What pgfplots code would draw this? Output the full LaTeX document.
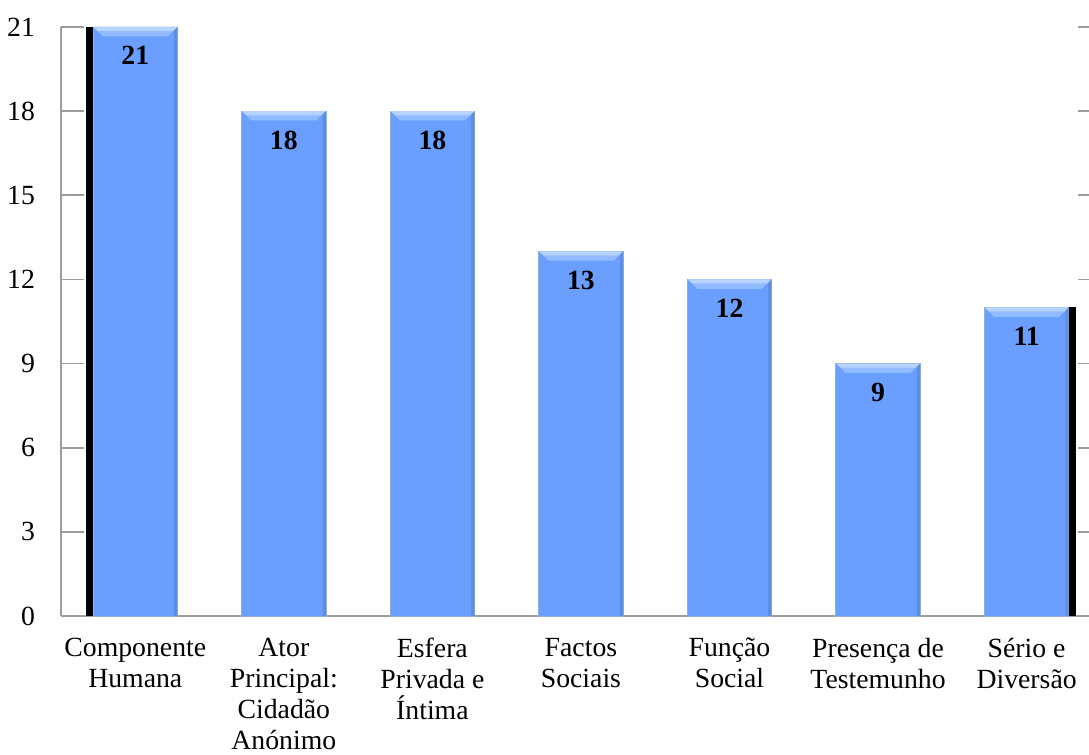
\documentclass[border=0pt]{standalone}
\usepackage{pgfplots}
\pgfplotsset{compat=1.18}
\usepackage{pgfplotstable}
\usepackage{fontspec}
\setmainfont{Liberation Serif}

\definecolor{barblue}{HTML}{6A9FFF}
\definecolor{bevellight}{HTML}{B6D4FF}
\definecolor{bevelmid}{HTML}{92BCFF}
\definecolor{baredge}{HTML}{8FAFDD}
\definecolor{axisgray}{HTML}{9C9C9C}

\pgfplotstableread{
idx value
0 21
1 18
2 18
3 13
4 12
5 9
6 11
}\counts

% bevelled top of a bar, hanging below the data point
\pgfdeclareplotmark{bevel}{%
  \pgfpathmoveto{\pgfqpoint{-31.3pt}{0pt}}%
  \pgfpathlineto{\pgfqpoint{31.3pt}{0pt}}%
  \pgfpathlineto{\pgfqpoint{24.3pt}{-7pt}}%
  \pgfpathlineto{\pgfqpoint{-24.3pt}{-7pt}}%
  \pgfpathclose
  \pgfusepathqfill}
\pgfdeclareplotmark{bevelhi}{%
  \pgfpathmoveto{\pgfqpoint{-31.3pt}{0pt}}%
  \pgfpathlineto{\pgfqpoint{31.3pt}{0pt}}%
  \pgfpathlineto{\pgfqpoint{28.3pt}{-3pt}}%
  \pgfpathlineto{\pgfqpoint{-28.3pt}{-3pt}}%
  \pgfpathclose
  \pgfusepathqfill}

\begin{document}
\begin{tikzpicture}
\begin{axis}[
  at={(0,0)}, anchor=south west,
  width=771pt, height=441.75pt, scale only axis,
  xmin=-0.5, xmax=6.42, ymin=0, ymax=21,
  axis x line*=bottom, axis y line*=left,
  axis line style={axisgray, line width=1.1pt},
  ytick={0,3,...,21},
  xtick={0,...,6},
  tick style={draw=none},
  xticklabels={{Componente\\Humana},{Ator\\Principal:\\Cidadão\\Anónimo},{Esfera\\Privada e\\Íntima},{Factos\\Sociais},{Função\\Social},{Presença de\\Testemunho},{Sério e\\Diversão}},
  tick label style={font=\fontsize{20.8}{23.25}\selectfont},
  /pgf/number format/assume math mode=true,
  xticklabel style={align=center, yshift=-13pt},
  yticklabel style={xshift=-16pt},
  clip=false,
]
% short ticks along the right edge
\pgfplotsinvokeforeach{3,6,9,12,15,18,21}{
  \draw[axisgray, line width=1.2pt] (axis cs:6.346,#1) -- (axis cs:6.42,#1);
}
% shadow strips at the outer edges of the first and last bars
\addplot[ybar, bar width=4.9pt, bar shift=-34.4pt, fill=black, draw=none]
  coordinates {(0,21)};
\addplot[ybar, bar width=5.5pt, bar shift=34.5pt, fill=black, draw=none]
  coordinates {(6,11)};
% main bars with value labels
\addplot[ybar, bar width=63.4pt, bar shift=0pt, fill=barblue, draw=baredge,
  line width=0.6pt,
  nodes near coords,
  nodes near coords style={font=\fontsize{20.8}{23.25}\selectfont\bfseries,
    text=black, anchor=north, yshift=-11pt, /pgf/number format/assume math mode=true}]
  table[x=idx, y=value]{\counts};
% darker right-hand bevel of each bar
\addplot[ybar, bar width=2.6pt, bar shift=30.3pt, fill=barblue!70!black,
  fill opacity=0.35, draw=none]
  table[x=idx, y=value]{\counts};
% lighter top bevel of each bar
\addplot[only marks, mark=bevel, mark options={fill=bevelmid, draw=none}]
  table[x=idx, y=value]{\counts};
\addplot[only marks, mark=bevelhi, mark options={fill=bevellight, draw=none}]
  table[x=idx, y=value]{\counts};
\end{axis}
% long tick marks on the left wall (one every 3 units, 441.75pt / 7 apart)
\foreach \k in {1,...,7}{
  \draw[axisgray, line width=1.2pt] (0pt,\k*63.107pt) -- ++(17.25pt,0pt);
}
\pgfresetboundingbox
\path[use as bounding box] (-45.75pt,-104.25pt) rectangle (771pt,462pt);
\end{tikzpicture}
\end{document}
